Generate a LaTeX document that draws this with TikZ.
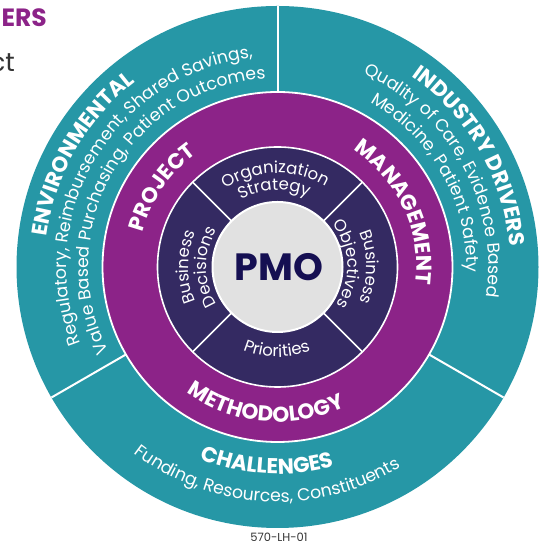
\documentclass[tikz,border=0pt]{standalone}
\usepackage{fontspec}
\setmainfont{Poppins}
\usetikzlibrary{calc, decorations.text}
\definecolor{pmoteal}{HTML}{2697A6}
\definecolor{pmopurple}{HTML}{8C2388}
\definecolor{pmodark}{HTML}{342A62}
\definecolor{pmogrey}{HTML}{E1E1E1}
\definecolor{pmonavy}{HTML}{150F52}
\definecolor{pmotext}{HTML}{333333}
\newcommand\ringlabel{\fontsize{21.5}{21.5}\selectfont\bfseries}
\newcommand\ringdesc{\fontsize{17.3}{17.3}\selectfont}
\newcommand\wedgetext{\fontsize{16.5}{16.5}\selectfont}

\begin{document}
\begin{tikzpicture}[x=1pt, y=1pt,
    arctext/.style={decorate, decoration={text along path, text align=center,
      text color=white, text={#1}}},
    divider/.style={white, line width=2pt}]
  \useasboundingbox (0,0) rectangle (547,545);
  \coordinate (c) at (277.5,278);
  % rings
  \fill[pmoteal] (c) circle[radius=261];
  \foreach \a in {90,210,330}
    \draw[divider] ($(c)+(\a:174)$) -- ($(c)+(\a:261)$);
  \draw[white, line width=1.8pt, fill=pmopurple] (c) circle[radius=175];
  \draw[white, line width=1.6pt, fill=pmodark] (c) circle[radius=120];
  \foreach \a in {45,135,225,315}
    \draw[white, line width=1.6pt] ($(c)+(\a:64)$) -- ($(c)+(\a:120)$);
  \draw[white, line width=2pt, fill=pmogrey] (c) circle[radius=65];
  \node[font=\fontsize{38}{38}\selectfont\bfseries, text=pmonavy] (pmo) at ($(c)+(1.5,0)$) {PMO};
  % outer ring
  \path[arctext={|\ringlabel|ENVIRONMENTAL}] ($(c)+(208:233)$) arc[start angle=208, end angle=92, radius=233];
  \path[arctext={|\ringdesc|Regulatory, Reimbursement, Shared Savings,}] ($(c)+(208:211)$) arc[start angle=208, end angle=90, radius=211];
  \path[arctext={|\ringdesc|Value Based Purchasing, Patient Outcomes}] ($(c)+(209:189)$) arc[start angle=209, end angle=91, radius=189];
  \path[arctext={|\ringlabel|INDUSTRY DRIVERS}] ($(c)+(88:233)$) arc[start angle=88, end angle=-28, radius=233];
  \path[arctext={|\ringdesc|Quality of Care, Evidence Based}] ($(c)+(88:211)$) arc[start angle=88, end angle=-30, radius=211];
  \path[arctext={|\ringdesc|Medicine, Patient Safety}] ($(c)+(88.5:189)$) arc[start angle=88.5, end angle=-29.5, radius=189];
  \path[arctext={|\ringlabel|CHALLENGES}] ($(c)+(212:207)$) arc[start angle=212, end angle=322, radius=207];
  \path[arctext={|\ringdesc|Funding, Resources, Constituents}] ($(c)+(212:235)$) arc[start angle=212, end angle=322, radius=235];
  % middle ring
  \path[arctext={|\ringlabel|PROJECT}] ($(c)+(200.5:139)$) arc[start angle=200.5, end angle=90.5, radius=139];
  \path[arctext={|\ringlabel|MANAGEMENT}] ($(c)+(80:139)$) arc[start angle=80, end angle=-30, radius=139];
  \path[arctext={|\ringlabel|METHODOLOGY}] ($(c)+(210:155)$) arc[start angle=210, end angle=320, radius=155];
  % inner ring
  \path[arctext={|\wedgetext|Organization}] ($(c)+(134:94)$) arc[start angle=134, end angle=49, radius=94];
  \path[arctext={|\wedgetext|Strategy}] ($(c)+(134:77)$) arc[start angle=134, end angle=51, radius=77];
  \path[arctext={|\wedgetext|Business}] ($(c)+(44:89)$) arc[start angle=44, end angle=-44, radius=89];
  \path[arctext={|\wedgetext|Objectives}] ($(c)+(44:70)$) arc[start angle=44, end angle=-38, radius=70];
  \path[arctext={|\wedgetext|Business}] ($(c)+(224:89)$) arc[start angle=224, end angle=136, radius=89];
  \path[arctext={|\wedgetext|Decisions}] ($(c)+(224:71)$) arc[start angle=224, end angle=136, radius=71];
  \path[arctext={|\wedgetext|Priorities}] ($(c)+(226:90)$) arc[start angle=226, end angle=313, radius=90];
  % cut-off heading text
  \node[anchor=base east, inner sep=0, text=pmopurple, font=\fontsize{25}{25}\selectfont\bfseries] (ers) at (47,518) {ERS};
  \node[anchor=base east, inner sep=0, text=pmotext, font=\fontsize{26}{26}\selectfont] (ct) at (15,473) {ct};
  \node[anchor=base, inner sep=0, text=pmotext, font=\fontsize{11.5}{11.5}\selectfont] (code) at (279,3) {570-LH-01};
\end{tikzpicture}
\end{document}
